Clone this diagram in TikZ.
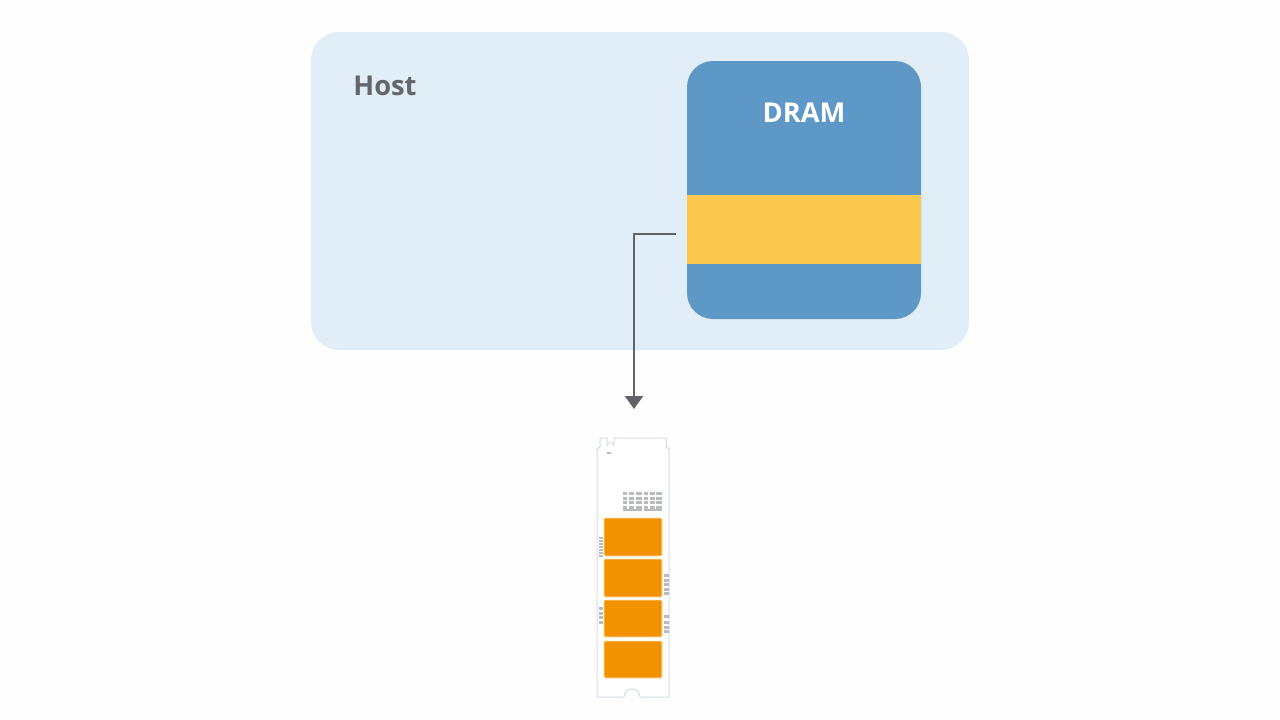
\documentclass[tikz,border=0pt]{standalone}
\usepackage{fontspec}
\setmainfont{Open Sans}
\usetikzlibrary{arrows.meta}
\definecolor{pagewhite}{HTML}{FEFEFE}
\definecolor{hostblue}{HTML}{E2EEF7}
\definecolor{dramblue}{HTML}{5E98C6}
\definecolor{bandyellow}{HTML}{FCC94E}
\definecolor{chiporange}{HTML}{F39200}
\definecolor{chipedge}{HTML}{FDE3B0}
\definecolor{linegray}{HTML}{5F6368}
\definecolor{hosttext}{HTML}{63666A}
\definecolor{pcbline}{HTML}{D6DDE4}
\definecolor{padgray}{HTML}{B8BABC}
\tikzset{
  x=1pt,y=-1pt,
  box/.style={inner sep=0pt,outer sep=0pt,draw=none,anchor=north west},
  hostbox/.style={box,fill=hostblue,rounded corners=28pt,minimum width=658pt,minimum height=318pt},
  drambox/.style={box,fill=dramblue,rounded corners=26pt,minimum width=234pt,minimum height=258pt},
  bandbox/.style={box,fill=bandyellow,minimum width=234pt,minimum height=69pt},
  chip/.style={box,fill=chiporange,draw=chipedge,line width=.8pt,rounded corners=1pt,minimum width=58pt},
  conn/.style={draw=linegray,line width=2pt,-{Triangle[length=13pt,width=18pt]}},
  pcb/.style={draw=pcbline,line width=1pt,fill=white,line join=round},
  pad/.style={fill=padgray,draw=none},
  label/.style={font=\fontsize{27.3}{32}\selectfont\bfseries,inner sep=0pt}
}
\begin{document}
\begin{tikzpicture}
\useasboundingbox (0,0) rectangle (1280,720);
\fill[pagewhite] (0,0) rectangle (1280,720);
\node[hostbox] (host) at (311,32) {};
\node[drambox] (dram) at (687,61) {};
\node[bandbox] (band) at (687,195) {};
\node[label,text=hosttext] (hostlabel) at (385,86) {Host};
\node[label,text=white] (dramlabel) at (804,113) {DRAM};
% SSD board
\draw[pcb] (600,438) -- (607,438) -- (607,446) arc[start angle=180,end angle=360,radius=3.5] -- (614,438)
  -- (666,438) -- (666,447) -- (669,449) -- (669,697) -- (640,697)
  arc[start angle=0,end angle=-180,radius=8] -- (597,697) -- (597,449) -- (600,447) -- cycle;
\node[chip,minimum height=38pt] (chipa) at (604,518) {};
\node[chip,minimum height=38pt] (chipb) at (604,559) {};
\node[chip,minimum height=37pt] (chipc) at (604,600) {};
\node[chip,minimum height=37pt] (chipd) at (604,641) {};
% pads: controller cluster
\foreach \x/\w in {623/4,629/5,636/6,644/4,650/5,656/6}
  \foreach \y in {492,496.5,501,505.5}
    \fill[pad] (\x,\y) rectangle ++(\w,3);
\fill[pad] (622.5,508.5) rectangle ++(19,2.5);
\fill[pad] (644,508.5) rectangle ++(18,2.5);
\fill[pad] (607,451.5) rectangle ++(4,2.5);
% pads: board edges
\foreach \y in {537,540,543,546,549,552,555}
  \fill[pad] (598.5,\y) rectangle ++(4.5,1.8);
\foreach \y in {607,611.5,616,620.5}
  \fill[pad] (598.5,\y) rectangle ++(4.5,3);
\foreach \y in {574,578.5,583,587.5,592}
  \fill[pad] (663.5,\y) rectangle ++(5,3.4);
\foreach \y in {615,620.5,625.5,630}
  \fill[pad] (663.5,\y) rectangle ++(5,3);
% connector
\coordinate (ssdtop) at (634,409);
\coordinate (bandexit) at ([xshift=-11pt,yshift=-4.5pt]band.west);
\draw[conn] (bandexit) -| (ssdtop);
\end{tikzpicture}
\end{document}
